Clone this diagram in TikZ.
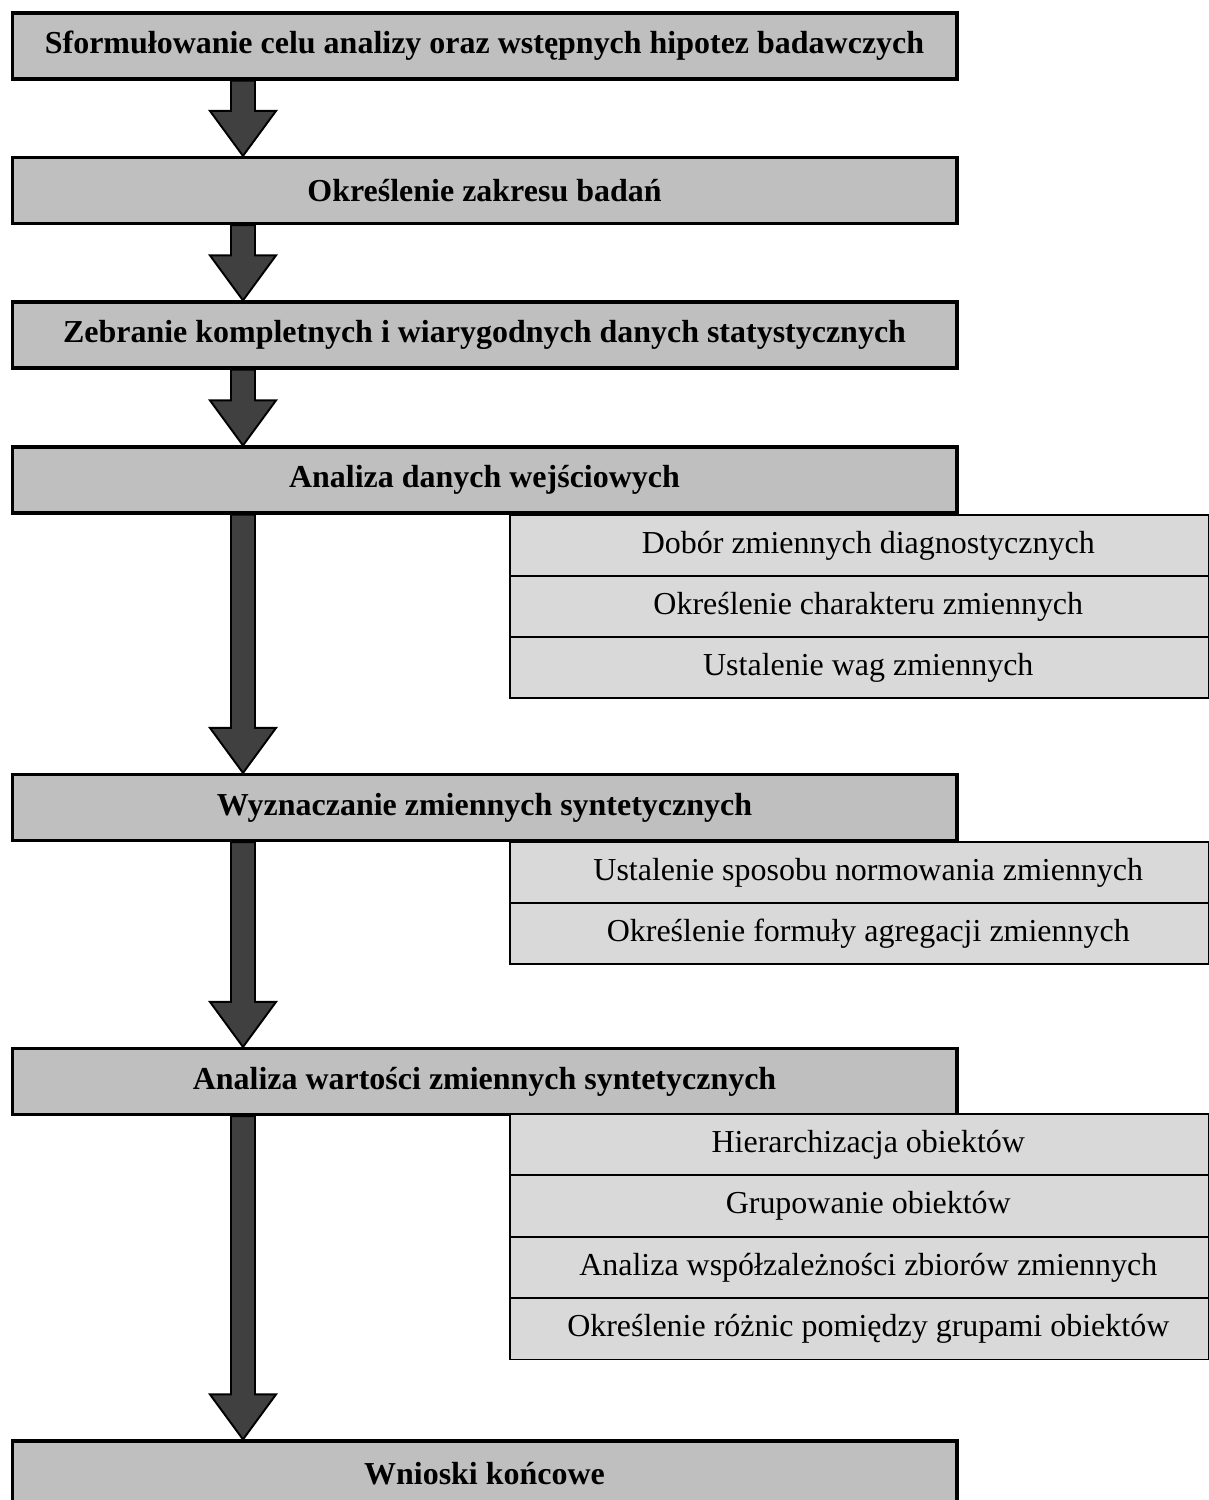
\documentclass[tikz,border=0pt]{standalone}
\usepackage{fontspec}
\setmainfont{Liberation Serif}
\usetikzlibrary{calc}
\pgfdeclarelayer{bg}
\pgfsetlayers{bg,main}

\begin{document}
\begin{tikzpicture}
		[x=0.02cm,y=-0.02cm,
		mainbox/.style={shape=rectangle,draw,line width=1.8pt,fill=gray!50!white,
			minimum width=18.9cm,minimum height=1.32cm,inner sep=0pt,
			font=\fontsize{18.2}{22}\selectfont\bfseries},
		subbox/.style={shape=rectangle,draw,line width=0.8pt,fill=black!15,
			minimum width=13.98cm,minimum height=1.22cm,inner sep=0pt,
			font=\fontsize{18.2}{22}\selectfont},
		fatarrow/.style={draw,line width=1.1pt,fill=black!75,line join=miter}]
		\useasboundingbox (0,0) rectangle (1209,1500);
		\coordinate (ax) at (243,0);
		\node[mainbox] (m1) at (484.5,46) {Sformułowanie celu analizy oraz wstępnych hipotez badawczych};
		\node[mainbox] (m2) at (484.5,190.5) {Określenie zakresu badań};
		\node[mainbox] (m3) at (484.5,335) {Zebranie kompletnych i wiarygodnych danych statystycznych};
		\node[mainbox] (m4) at (484.5,480) {Analiza danych wejściowych};
		\node[mainbox] (m5) at (484.5,807.5) {Wyznaczanie zmiennych syntetycznych};
		\node[mainbox] (m6) at (484.5,1081.5) {Analiza wartości zmiennych syntetycznych};
		\node[mainbox] (m7) at (484.5,1474) {Wnioski końcowe};
		% podpunkty
		\foreach \txt [count=\i] in {Dobór zmiennych diagnostycznych,
			Określenie charakteru zmiennych,Ustalenie wag zmiennych}
		{
			\node[subbox] (a\i) at (859.5,{545.5+61*(\i-1)}) {\hspace{10pt}\txt};
		}
		\foreach \txt [count=\i] in {Ustalenie sposobu normowania zmiennych,
			Określenie formuły agregacji zmiennych}
		{
			\node[subbox] (b\i) at (859.5,{872.5+61*(\i-1)}) {\hspace{10pt}\txt};
		}
		\foreach \txt [count=\i] in {Hierarchizacja obiektów,Grupowanie obiektów,
			Analiza współzależności zbiorów zmiennych,
			Określenie różnic pomiędzy grupami obiektów}
		{
			\node[subbox] (c\i) at (859.5,{1144.5+61.5*(\i-1)}) {\hspace{10pt}\txt};
		}
		% strzalki
		\begin{pgfonlayer}{bg}
		\foreach \startNode/\endNode in {m1/m2, m2/m3, m3/m4, m4/m5, m5/m6, m6/m7}
		{
			\draw[fatarrow] ($(ax |- \startNode.south)+(-12,0)$)
				-- ($(ax |- \endNode.north)+(-12,-45)$)
				-- ($(ax |- \endNode.north)+(-33,-45)$)
				-- (ax |- \endNode.north)
				-- ($(ax |- \endNode.north)+(33,-45)$)
				-- ($(ax |- \endNode.north)+(12,-45)$)
				-- ($(ax |- \startNode.south)+(12,0)$) -- cycle;
		}
		\end{pgfonlayer}
\end{tikzpicture}
\end{document}
